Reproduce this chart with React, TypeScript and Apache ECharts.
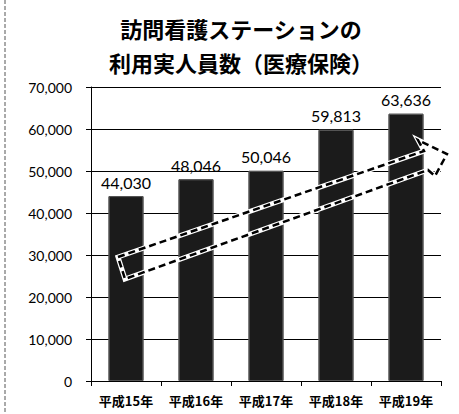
import React, { useEffect, useRef } from "react";
import * as echarts from "echarts";

const titleLines = ["訪問看護ステーションの", "利用実人員数（医療保険）"];
const categories = ["平成15年", "平成16年", "平成17年", "平成18年", "平成19年"];
const values = [44030, 48046, 50046, 59813, 63636];
const yTicks = { min: 0, max: 70000, interval: 10000 };

const arrowPoints: number[][] = [
  [118, 257],
  [424, 151],
  [418, 140],
  [447, 154],
  [435, 176],
  [428, 170],
  [125, 279],
];

export default function App() {
  const ref = useRef<HTMLDivElement>(null);
  useEffect(() => {
    if (!ref.current) return;
    const chart = echarts.init(ref.current, null, { renderer: "svg" });
    chart.setOption({
      animation: false,
      backgroundColor: "#ffffff",
      title: {
        text: titleLines.join("\n"),
        left: 236,
        textAlign: "center",
        top: 6,
        textStyle: {
          fontFamily: "Noto Sans CJK JP",
          fontWeight: "bold",
          fontSize: 22,
          lineHeight: 34,
          color: "#000",
        },
      },
      grid: { left: 91, right: 18, top: 87, bottom: 33, containLabel: false },
      xAxis: {
        type: "category",
        data: categories,
        axisLine: { lineStyle: { color: "#000", width: 1 } },
        axisTick: { show: true, length: 5, lineStyle: { color: "#000" } },
        axisLabel: {
          interval: 0,
          hideOverlap: false,
          margin: 13,
          fontFamily: "Noto Sans CJK JP",
          fontWeight: "bold",
          fontSize: 13,
          color: "#000",
        },
      },
      yAxis: {
        type: "value",
        min: yTicks.min,
        max: yTicks.max,
        interval: yTicks.interval,
        axisLine: { show: true, lineStyle: { color: "#000", width: 1 } },
        axisTick: { show: true, length: 5, lineStyle: { color: "#000" } },
        splitLine: { show: true, lineStyle: { color: "#000", width: 1 } },
        axisLabel: {
          margin: 19,
          fontFamily: "Lato",
          fontSize: 14,
          color: "#000",
          formatter: (v: number) => v.toLocaleString("en-US"),
        },
      },
      series: [
        {
          type: "bar",
          data: values,
          barWidth: "50%",
          itemStyle: {
            color: "#1b1b1b",
            borderColor: "#555",
            borderWidth: 1,
            decal: {
              symbol: "circle",
              symbolSize: 0.6,
              color: "rgba(255,255,255,0.35)",
              dashArrayX: [1, 0],
              dashArrayY: [3, 4],
              rotation: 0.7,
            },
          },
          label: {
            show: true,
            position: "top",
            distance: 6,
            fontFamily: "Lato",
            fontSize: 16,
            color: "#000",
            formatter: (p: any) => Number(p.value).toLocaleString("en-US"),
          },
        },
      ],
      graphic: [
        {
          type: "line",
          shape: { x1: 5, y1: 0, x2: 5, y2: 414 },
          style: { stroke: "#555", lineWidth: 1, lineDash: [4, 2] },
          silent: true,
        },
        {
          type: "polygon",
          shape: { points: arrowPoints },
          style: { fill: "none", stroke: "#fff", lineWidth: 5 },
          silent: true,
          z: 100,
        },
        {
          type: "polygon",
          shape: { points: arrowPoints },
          style: { fill: "none", stroke: "#000", lineWidth: 2.5, lineDash: [7, 4] },
          silent: true,
          z: 101,
        },
      ],
    });
    return () => chart.dispose();
  }, []);
  return (
    <div
      ref={ref}
      style={{ position: "fixed", left: 0, top: 0, width: 459, height: 414 }}
    />
  );
}
